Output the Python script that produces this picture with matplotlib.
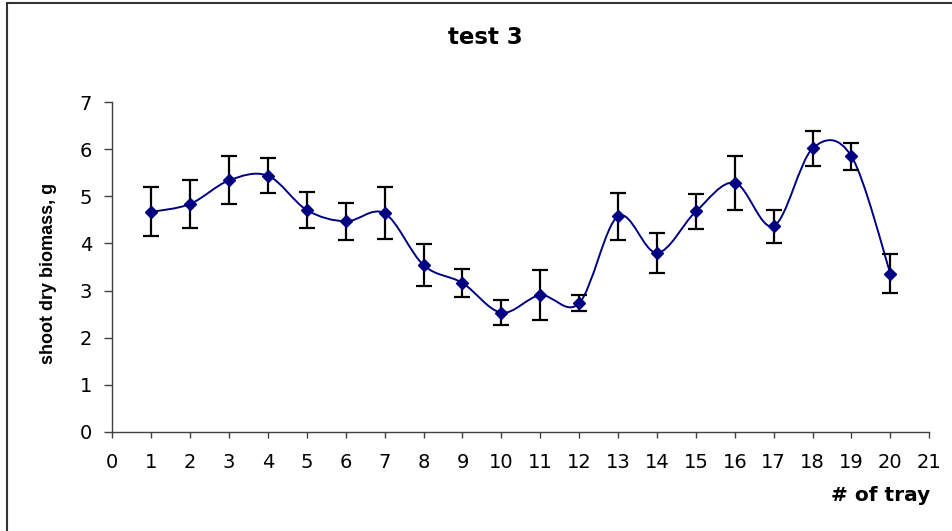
import numpy as np
import matplotlib
matplotlib.use("Agg")
import matplotlib.pyplot as plt
from matplotlib.path import Path
from matplotlib.patches import PathPatch, Rectangle

plt.rcParams['font.family'] = ['DejaVu Sans']

# tray number, mean shoot dry biomass (g) and error
trays = [1, 2, 3, 4, 5, 6, 7, 8, 9, 10, 11, 12, 13, 14, 15, 16, 17, 18, 19, 20]
biomass = [4.67, 4.84, 5.34, 5.44, 4.71, 4.47, 4.64, 3.54, 3.16, 2.53,
           2.90, 2.73, 4.58, 3.80, 4.68, 5.29, 4.37, 6.02, 5.85, 3.36]
errors = [0.52, 0.51, 0.51, 0.37, 0.39, 0.40, 0.55, 0.44, 0.29, 0.27,
          0.53, 0.17, 0.50, 0.42, 0.37, 0.57, 0.35, 0.37, 0.29, 0.42]

NAVY = "#000080"


def smooth_path(xs, ys):
    # spreadsheet-style smoothed line: cubic bezier through each point
    pts = np.column_stack([xs, ys]).astype(float)
    n = len(pts)
    verts = [pts[0]]
    codes = [Path.MOVETO]
    for i in range(n - 1):
        p0 = pts[max(i - 1, 0)]
        p1 = pts[i]
        p2 = pts[i + 1]
        p3 = pts[min(i + 2, n - 1)]
        c1 = p1 + (p2 - p0) / 6.0
        c2 = p2 - (p3 - p1) / 6.0
        verts += [c1, c2, p2]
        codes += [Path.CURVE4] * 3
    return Path(verts, codes)


fig = plt.figure(figsize=(9.52, 5.31), dpi=100)
ax = fig.add_axes([112.3 / 952, 1 - 431.7 / 531, 817 / 952, 329.4 / 531])

ax.add_patch(PathPatch(smooth_path(trays, biomass), facecolor="none",
                       edgecolor=NAVY, lw=1.4, zorder=2))
ax.errorbar(trays, biomass, yerr=errors, fmt="none", ecolor="black",
            elinewidth=1.6, capsize=5.5, capthick=1.6, zorder=3)
ax.plot(trays, biomass, "D", color=NAVY, markersize=6.5, zorder=4)

ax.set_xlim(0, 21)
ax.set_ylim(0, 7)
ax.set_xticks(range(0, 22))
ax.set_yticks(range(0, 8))

for side in ("top", "right"):
    ax.spines[side].set_visible(False)
for side in ("left", "bottom"):
    ax.spines[side].set_color("#404040")
    ax.spines[side].set_linewidth(1.0)

ax.tick_params(axis="y", direction="out", length=6, width=1, color="#404040",
               pad=8.5, labelsize=14)
ax.tick_params(axis="x", direction="out", length=4.5, width=1, color="#404040",
               pad=11, labelsize=14)

fig.text(485.5 / 952, 1 - 37 / 531, "test 3", ha="center", va="center",
         fontsize=16.5, fontweight="bold")
fig.text(49 / 952, 1 - 273 / 531, "shoot dry biomass, g", rotation=90,
         ha="center", va="center", fontsize=13, fontweight="bold",
         family=["Liberation Sans", "DejaVu Sans"])
fig.text(930.5 / 952, 1 - 501 / 531, "# of tray", ha="right", va="baseline",
         fontsize=14.5, fontweight="bold")

# chart frame (left and top edges fall inside the image)
fig.add_artist(Rectangle((6.7 / 952, -0.1), 1.2, 1.1 - 3 / 531,
                         transform=fig.transFigure, fill=False,
                         edgecolor="#333333", lw=1.5, clip_on=False))

fig.savefig("out.png", dpi=100)
